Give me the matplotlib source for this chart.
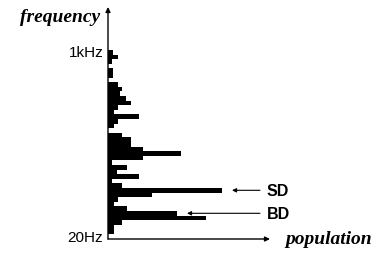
import matplotlib
matplotlib.use('Agg')
import matplotlib.pyplot as plt
import numpy as np

# population per frequency bin, from the lowest bin (20Hz) up to 1kHz
population = [6, 6, 14, 98, 69, 19, 6, 10, 44, 114,
              14, 4, 31, 9, 19, 4, 35, 73, 35, 23,
              23, 14, 0, 6, 10, 31, 6, 10, 23, 18,
              12, 14, 10, 0, 5, 5, 0, 4, 10, 5]
tick_pos = [-0.4, 39.8]
tick_labels = ['20Hz', '1kHz']
marked = {'SD': 9, 'BD': 4}

W, H = 377, 255
fig = plt.figure(figsize=(W / 100, H / 100), dpi=100)
ax = fig.add_axes([108 / W, 15 / H, 162 / W, 232 / H])

bins = np.arange(len(population))
ax.barh(bins + 0.5, population, height=1.0, color='black', linewidth=0)

ax.set_xlim(0, 162)
ax.set_ylim(-5 / 4.6, 227 / 4.6)
for s in ax.spines.values():
    s.set_visible(False)
ax.set_xticks([])
ax.set_yticks(tick_pos)
ax.set_yticklabels(tick_labels, fontsize=11, family='Liberation Sans')
ax.tick_params(axis='y', length=0, pad=3.5)

# axis arrows
arr = dict(arrowstyle='-|>', color='black', lw=1.0, mutation_scale=7, shrinkA=0, shrinkB=0)
ax.annotate('', xy=(0, 1), xytext=(0, 0), xycoords='axes fraction', arrowprops=arr)
ax.annotate('', xy=(1, 0), xytext=(0, 0), xycoords='axes fraction', arrowprops=arr)

fig.text(100 / W, 1 - 18 / H, 'frequency', ha='right', va='center', fontsize=14,
         family='Liberation Serif', weight='bold', style='italic')
fig.text(285 / W, 1 - 240 / H, 'population', ha='left', va='center', fontsize=14,
         family='Liberation Serif', weight='bold', style='italic')

small = dict(arrowstyle='-|>', color='black', lw=0.8, mutation_scale=6, shrinkA=0, shrinkB=0)
for name, b in marked.items():
    tip = population[b] + 10
    ax.annotate('', xy=(tip, b + 0.5), xytext=(152, b + 0.5), arrowprops=small,
                annotation_clip=False)
    ax.text(159, b + 0.5, name, ha='left', va='center', fontsize=11.5,
            family='Liberation Sans', weight='bold', clip_on=False)

fig.savefig('out.png', dpi=100)
